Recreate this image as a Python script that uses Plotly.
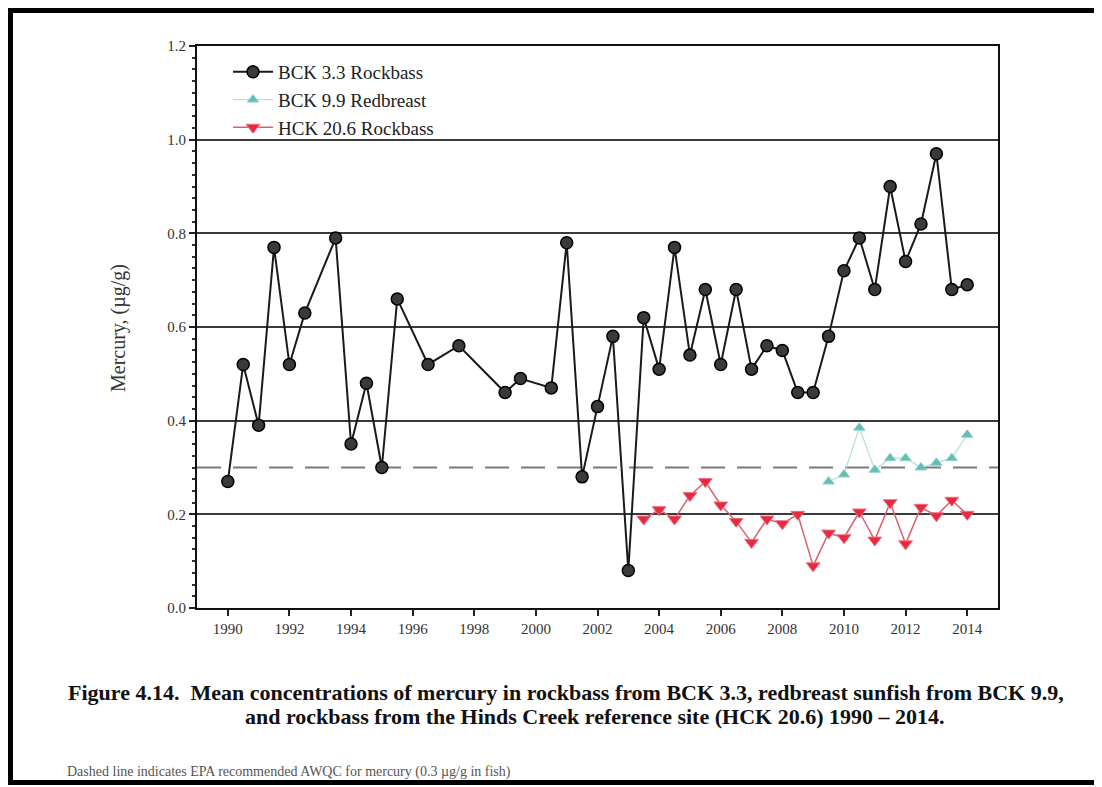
import plotly.graph_objects as go

# ---- data ----
bck33_years = [1990, 1990.5, 1991, 1991.5, 1992, 1992.5, 1993.5, 1994, 1994.5, 1995, 1995.5,
               1996.5, 1997.5, 1999, 1999.5, 2000.5, 2001, 2001.5, 2002, 2002.5, 2003, 2003.5,
               2004, 2004.5, 2005, 2005.5, 2006, 2006.5, 2007, 2007.5, 2008, 2008.5, 2009,
               2009.5, 2010, 2010.5, 2011, 2011.5, 2012, 2012.5, 2013, 2013.5, 2014]
bck33_hg = [0.27, 0.52, 0.39, 0.77, 0.52, 0.63, 0.79, 0.35, 0.48, 0.30, 0.66,
            0.52, 0.56, 0.46, 0.49, 0.47, 0.78, 0.28, 0.43, 0.58, 0.08, 0.62,
            0.51, 0.77, 0.54, 0.68, 0.52, 0.68, 0.51, 0.56, 0.55, 0.46, 0.46,
            0.58, 0.72, 0.79, 0.68, 0.90, 0.74, 0.82, 0.97, 0.68, 0.69]

bck99_years = [2009.5, 2010, 2010.5, 2011, 2011.5, 2012, 2012.5, 2013, 2013.5, 2014]
bck99_hg = [0.27, 0.285, 0.385, 0.295, 0.32, 0.32, 0.30, 0.31, 0.32, 0.37]

hck206_years = [2003.5, 2004, 2004.5, 2005, 2005.5, 2006, 2006.5, 2007, 2007.5, 2008, 2008.5,
                2009, 2009.5, 2010, 2010.5, 2011, 2011.5, 2012, 2012.5, 2013, 2013.5, 2014]
hck206_hg = [0.19, 0.21, 0.19, 0.24, 0.27, 0.22, 0.185, 0.14, 0.19, 0.18, 0.20,
             0.09, 0.16, 0.15, 0.205, 0.145, 0.225, 0.137, 0.215, 0.197, 0.23, 0.20]

awqc_value = 0.3
x_ticks = list(range(1990, 2015, 2))
y_ticks = [0.0, 0.2, 0.4, 0.6, 0.8, 1.0, 1.2]

SERIF = "Liberation Serif, Times New Roman, serif"

# plot-area pixel frame (reference picture coordinates)
PX0, PX1, PY0, PY1 = 197, 998, 46, 608
def px(x):
    return (x - PX0) / (PX1 - PX0)
def py(y):
    return (PY1 - y) / (PY1 - PY0)

fig = go.Figure()

fig.add_trace(go.Scatter(
    x=hck206_years, y=hck206_hg, mode="lines+markers", name="HCK 20.6 Rockbass",
    line=dict(color="#d9606e", width=1.5),
    marker=dict(symbol="triangle-down", size=12, color="#e8293f", line=dict(color="#f07080", width=1)),
))
fig.add_trace(go.Scatter(
    x=bck99_years, y=bck99_hg, mode="lines+markers", name="BCK 9.9 Redbreast",
    line=dict(color="#b2e0dc", width=1.2),
    marker=dict(symbol="triangle-up", size=10, color="#62bdb6", line=dict(color="#8fd3cd", width=1)),
))
fig.add_trace(go.Scatter(
    x=bck33_years, y=bck33_hg, mode="lines+markers", name="BCK 3.3 Rockbass",
    line=dict(color="#1a1a1a", width=2),
    marker=dict(symbol="circle", size=12, color="#3a3a3a", line=dict(color="#000000", width=1.5)),
))

# dashed AWQC reference line
fig.add_shape(type="line", xref="paper", yref="y", x0=0, x1=1, y0=awqc_value, y1=awqc_value,
              line=dict(color="#7a7a7a", width=2, dash="24px,12px"), layer="below")

# outer black frame
fig.add_shape(type="rect", xref="paper", yref="paper",
              x0=px(10.5), x1=px(1115), y0=py(782.5), y1=py(10.5),
              line=dict(color="#000000", width=5), fillcolor="rgba(0,0,0,0)")

# page has an 8px body margin: figure is 8px smaller, all offsets shifted by -8
OFF = 8
fig.update_layout(
    width=1102 - OFF, height=787 - OFF,
    margin=dict(l=PX0 - OFF, r=1102 - PX1, t=PY0 - OFF, b=787 - PY1),
    paper_bgcolor="white", plot_bgcolor="white",
    font=dict(family=SERIF, color="#222222"),
    showlegend=True,
    legend=dict(
        x=px(228), y=py(53), xanchor="left", yanchor="top",
        bgcolor="rgba(0,0,0,0)", borderwidth=0,
        font=dict(family=SERIF, size=19, color="#222222"),
        traceorder="reversed", itemwidth=40, tracegroupgap=0,
    ),
    xaxis=dict(
        range=[1989, 2015], tickmode="array", tickvals=x_ticks,
        ticktext=[str(v) for v in x_ticks],
        showgrid=False, zeroline=False,
        showline=True, linecolor="#111111", linewidth=2, mirror=True,
        ticks="outside", ticklen=6, tickwidth=1.5, tickcolor="#222222",
        tickfont=dict(family=SERIF, size=15, color="#333333"),
    ),
    yaxis=dict(
        range=[0, 1.2], tickmode="array", tickvals=y_ticks,
        ticktext=["%.1f" % v for v in y_ticks],
        showgrid=True, gridcolor="#3a3a3a", gridwidth=1.6, zeroline=False,
        showline=True, linecolor="#111111", linewidth=2, mirror=True,
        ticks="outside", ticklen=6, tickwidth=1.5, tickcolor="#222222",
        tickfont=dict(family=SERIF, size=15, color="#333333"),
        minor=dict(dtick=0.025, ticks="outside", ticklen=3, tickcolor="#333333", showgrid=False),
    ),
    annotations=[
        dict(text="Mercury, (µg/g)", xref="paper", yref="paper",
             x=px(118), y=py(328), textangle=-90,
             showarrow=False, xanchor="center", yanchor="middle",
             font=dict(family=SERIF, size=20, color="#333333")),
        dict(text="<b>Figure 4.14.  Mean concentrations of mercury in rockbass from BCK 3.3, redbreast sunfish from BCK 9.9,</b>",
             xref="paper", yref="paper", x=px(566), y=py(692),
             showarrow=False, xanchor="center", yanchor="middle",
             font=dict(family=SERIF, size=22, color="#111111")),
        dict(text="<b>and rockbass from the Hinds Creek reference site (HCK 20.6) 1990 – 2014.</b>",
             xref="paper", yref="paper", x=px(594), y=py(716),
             showarrow=False, xanchor="center", yanchor="middle",
             font=dict(family=SERIF, size=22, color="#111111")),
        dict(text="Dashed line indicates EPA recommended AWQC for mercury (0.3 µg/g in fish)",
             xref="paper", yref="paper", x=px(65), y=py(772),
             showarrow=False, xanchor="left", yanchor="middle",
             font=dict(family=SERIF, size=14, color="#555555")),
    ],
)

fig.write_html("out.html")
